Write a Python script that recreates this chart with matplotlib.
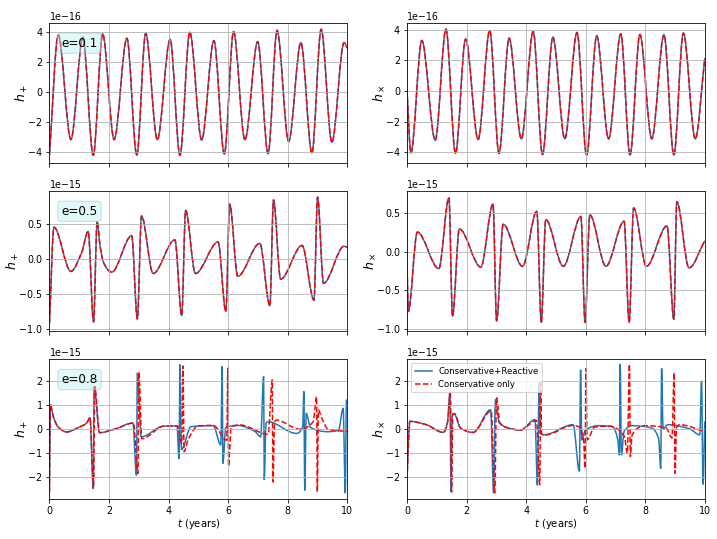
import matplotlib
matplotlib.use("Agg")
import matplotlib.pyplot as plt
import numpy as np
from matplotlib.lines import Line2D
from matplotlib.patches import PathPatch
from matplotlib.path import Path

# Waveform turning points.
# t in years, strain in units of the axis offset (1e-16 top row, 1e-15 below).

# e = 0.1 (both runs overlap)
t_e1_plus = [0.0, 0.295, 0.72, 1.12, 1.47, 1.785, 2.17, 2.60, 2.93, 3.23, 3.62, 4.05, 4.38, 4.71,
             5.11, 5.52, 5.87, 6.18, 6.56, 6.99, 7.34, 7.64, 8.03, 8.44, 8.81, 9.12, 9.48, 9.89, 10.0]
h_e1_plus = [-4.2, 3.78, -3.18, 3.62, -4.22, 3.85, -3.18, 3.56, -4.22, 3.89, -3.18, 3.49, -4.22, 3.96,
             -3.20, 3.40, -4.13, 4.00, -3.20, 3.34, -4.11, 4.09, -3.30, 3.27, -4.07, 4.16, -3.36, 3.27, 2.9]
t_e1_cross = [0.0, 0.134, 0.50, 0.95, 1.31, 1.63, 1.97, 2.39, 2.78, 3.09, 3.43, 3.84, 4.24, 4.55, 4.90,
              5.30, 5.71, 6.03, 6.37, 6.77, 7.18, 7.49, 7.82, 8.22, 8.63, 8.96, 9.28, 9.68, 10.0]
h_e1_cross = [0.1, -4.03, 3.29, -3.21, 4.03, -4.07, 3.38, -3.16, 3.94, -4.07, 3.44, -3.12, 3.87, -4.14,
              3.51, -3.12, 3.81, -4.18, 3.59, -3.12, 3.72, -4.18, 3.68, -3.12, 3.66, -4.18, 3.77, -3.12, 2.14]

# e = 0.5 (both runs overlap)
t_e5_plus = [0.0, 0.15, 0.72, 1.08, 1.30, 1.48, 1.60, 1.70, 1.81, 2.09, 2.76, 2.95, 3.09, 3.48, 4.21,
             4.44, 4.57, 4.90, 5.66, 5.92, 6.05, 6.32, 7.06, 7.40, 7.52, 7.76, 8.48, 8.88, 9.00, 9.20,
             9.89, 10.0]
h_e5_plus = [-0.92, 0.45, -0.18, 0.09, 0.39, -0.90, 0.53, 0.18, -0.05, -0.19, 0.33, -0.86, 0.61, -0.21, 0.27,
             -0.81, 0.69, -0.21, 0.24, -0.75, 0.78, -0.25, 0.22, -0.67, 0.84, -0.29, 0.19, -0.59, 0.88, -0.35,
             0.18, 0.16]
t_e5_cross = [0.0, 0.045, 0.35, 1.07, 1.41, 1.53, 1.76, 2.48, 2.89, 3.01, 3.23, 3.88, 4.36, 4.51, 4.66,
              5.25, 5.84, 5.98, 6.14, 6.68, 7.29, 7.46, 7.61, 8.04, 8.73, 8.96, 9.06, 9.47, 10.0]
h_e5_cross = [-0.02, -0.77, 0.25, -0.22, 0.69, -0.83, 0.29, -0.20, 0.61, -0.89, 0.35, -0.19, 0.52, -0.91,
              0.41, -0.19, 0.45, -0.91, 0.47, -0.19, 0.39, -0.91, 0.56, -0.19, 0.33, -0.87, 0.64, -0.21, 0.14]

# e = 0.8, conservative + reactive
t_e8_plus_cr = [0.0, 0.03, 0.13, 0.30, 0.58, 1.0, 1.25, 1.36, 1.47, 1.50, 1.68, 2.2, 2.80, 2.92, 2.95,
                3.08, 3.82, 4.28, 4.35, 4.38, 4.43, 4.75, 5.5, 5.75, 5.80, 5.82, 5.92, 6.3, 6.9, 7.09,
                7.19, 7.21, 7.27, 7.34, 8.29, 8.50, 8.54, 8.57, 8.62, 8.76, 9.33, 9.7, 9.86, 9.93, 9.97, 10.0]
h_e8_plus_cr = [-2.6, 1.0, 0.51, 0.07, -0.12, 0.08, 0.25, 0.47, -2.46, 1.75, -0.15, 0.0, 0.25, -1.91, 2.31,
                -0.32, 0.12, 0.13, -1.22, 2.66, -0.85, 0.1, 0.14, -0.66, 2.59, -1.42, 0.07, 0.15, -0.1, -0.32,
                2.17, -2.09, 0.24, 0.30, -0.18, 0.1, 1.55, -2.53, 0.65, 0.07, -0.11, -0.05, 0.86, -2.64, 1.2, 0.8]
t_e8_cross_cr = [0.0, 0.1, 0.65, 1.22, 1.36, 1.44, 1.48, 1.52, 1.58, 1.8, 2.22, 2.81, 2.91, 2.97, 3.1,
                 3.55, 3.80, 4.30, 4.38, 4.44, 4.47, 4.6, 5.58, 5.79, 5.83, 5.87, 6.0, 6.45, 6.9, 7.08,
                 7.13, 7.16, 7.20, 7.29, 7.56, 8.2, 8.45, 8.52, 8.55, 8.60, 8.75, 9.5, 9.83, 9.89, 9.94, 10.0]
h_e8_cross_cr = [-2.11, 0.32, 0.18, -0.14, 0.25, 1.5, -2.6, 0.6, 0.64, 0.04, -0.14, 0.8, -2.64, 1.22, 0.25,
                 0.0, -0.05, 0.39, -2.32, 1.92, -0.17, -0.24, 0.18, -1.74, 2.44, -0.45, -0.03, 0.14, 0.1, -0.45,
                 -1.07, 2.68, -1.07, -0.1, 0.14, 0.05, -0.4, -1.63, 2.5, 0.0, 0.18, 0.0, -0.24, 1.98, -2.28, 0.32]

# e = 0.8, conservative only
t_e8_plus_c = [0.0, 0.03, 0.13, 0.30, 0.58, 1.0, 1.25, 1.36, 1.48, 1.52, 1.68, 2.2, 2.82, 2.97, 3.00,
               3.10, 3.85, 4.30, 4.44, 4.48, 4.52, 4.65, 5.0, 5.5, 5.95, 5.99, 6.01, 6.1, 6.4, 7.34,
               7.48, 7.50, 7.56, 7.62, 8.4, 8.85, 8.97, 8.99, 9.03, 9.12, 9.35, 9.8, 10.0]
h_e8_plus_c = [-2.6, 1.0, 0.51, 0.07, -0.12, 0.08, 0.25, 0.47, -2.46, 1.75, -0.15, 0.0, 0.25, -1.84, 2.36,
               -0.40, 0.12, 0.13, -0.6, 2.61, -0.94, -0.45, 0.13, 0.15, -0.46, 2.52, -1.54, 0.07, 0.17, -0.22,
               2.03, -2.19, 0.30, 0.37, -0.01, 0.3, 1.34, -2.6, 0.79, 0.51, 0.0, -0.08, -0.07]
t_e8_cross_c = [0.0, 0.1, 0.65, 1.22, 1.36, 1.46, 1.50, 1.54, 1.60, 1.8, 2.22, 2.83, 2.95, 3.01, 3.12,
                3.55, 3.80, 4.35, 4.46, 4.49, 4.52, 4.65, 5.58, 5.80, 5.93, 5.98, 6.01, 6.05, 6.3, 6.8,
                7.3, 7.40, 7.47, 7.50, 7.56, 8.0, 8.7, 8.9, 8.97, 9.00, 9.05, 9.15, 10.0]
h_e8_cross_c = [-2.11, 0.32, 0.18, -0.14, 0.25, 1.5, -2.6, 0.6, 0.64, 0.04, -0.14, 0.75, -2.64, 1.29, 0.25,
                0.0, -0.05, 0.35, -2.3, 2.02, -0.2, -0.24, 0.15, 0.08, -0.45, -1.63, 2.5, -0.45, 0.08, 0.12,
                -0.31, -1.0, 2.68, -1.14, -0.24, 0.14, 0.05, -0.37, 2.33, -1.83, 0.04, 0.18, -0.1]

eccentricities = ["e=0.1", "e=0.5", "e=0.8"]
y_limits = [[(-4.72e-16, 4.6e-16), (-4.68e-16, 4.45e-16)],
            [(-1.03e-15, 0.97e-15), (-1.02e-15, 0.78e-15)],
            [(-2.9e-15, 2.9e-15), (-2.9e-15, 2.9e-15)]]


def hermite_path(t, h):
    """Shape-preserving cubic through the turning points, as Bezier segments."""
    t = np.asarray(t, float)
    h = np.asarray(h, float)
    dt = np.diff(t)
    d = np.diff(h) / dt
    m = np.zeros_like(h)
    m[0], m[-1] = d[0], d[-1]
    for i in range(1, len(h) - 1):
        if d[i - 1] * d[i] > 0:
            w1 = 2 * dt[i] + dt[i - 1]
            w2 = dt[i] + 2 * dt[i - 1]
            m[i] = (w1 + w2) / (w1 / d[i - 1] + w2 / d[i])
    verts = [(t[0], h[0])]
    for i in range(len(dt)):
        verts += [(t[i] + dt[i] / 3, h[i] + m[i] * dt[i] / 3),
                  (t[i + 1] - dt[i] / 3, h[i + 1] - m[i + 1] * dt[i] / 3),
                  (t[i + 1], h[i + 1])]
    codes = [Path.MOVETO] + [Path.CURVE4] * (len(verts) - 1)
    return Path(verts, codes)


def draw(ax, t, h, scale, **kw):
    path = hermite_path(t, np.asarray(h) * scale)
    ax.add_patch(PathPatch(path, fill=False, joinstyle="round", capstyle="butt", **kw))


plt.rcParams["xtick.labelsize"] = 9.5
plt.rcParams["ytick.labelsize"] = 9.5

fig, axes = plt.subplots(3, 2, sharex=True, figsize=(717 / 72, 539 / 72), dpi=72)
fig.subplots_adjust(left=0.069, right=0.983, bottom=0.074, top=0.958, wspace=0.2, hspace=0.2)

blue = dict(edgecolor="tab:blue", lw=1.5)
red = dict(edgecolor="red", lw=1.5, linestyle="--")

panels = [
    [(t_e1_plus, h_e1_plus, t_e1_plus, h_e1_plus, 1e-16), (t_e1_cross, h_e1_cross, t_e1_cross, h_e1_cross, 1e-16)],
    [(t_e5_plus, h_e5_plus, t_e5_plus, h_e5_plus, 1e-15), (t_e5_cross, h_e5_cross, t_e5_cross, h_e5_cross, 1e-15)],
    [(t_e8_plus_cr, h_e8_plus_cr, t_e8_plus_c, h_e8_plus_c, 1e-15),
     (t_e8_cross_cr, h_e8_cross_cr, t_e8_cross_c, h_e8_cross_c, 1e-15)],
]

box = dict(boxstyle="round", fc=(0.7, 0.95, 0.95, 0.4), ec=(0.6, 0.8, 0.8, 0.6))

for row in range(3):
    for col in range(2):
        ax = axes[row, col]
        tb, hb, tr, hr, scale = panels[row][col]
        draw(ax, tb, hb, scale, **blue)
        draw(ax, tr, hr, scale, **red)
        ax.set_xlim(0, 10)
        ax.set_ylim(*y_limits[row][col])
        ax.grid(True)
        ax.set_ylabel(r"$h_+$" if col == 0 else r"$h_\times$", fontsize=12.5, labelpad=-1.5)
        if col == 0:
            ax.text(0.04, 0.9, eccentricities[row], transform=ax.transAxes, fontsize=12,
                    va="top", bbox=box)
    axes[2, 0].set_xlabel(r"$t$ (years)", fontsize=10, labelpad=1)
    axes[2, 1].set_xlabel(r"$t$ (years)", fontsize=10, labelpad=1)

handles = [Line2D([], [], color="tab:blue", lw=1.5), Line2D([], [], color="red", lw=1.5, ls="--")]
axes[2, 1].legend(handles, ["Conservative+Reactive", "Conservative only"], loc="upper left", fontsize=8.5)

fig.savefig("out.png", dpi=72)
